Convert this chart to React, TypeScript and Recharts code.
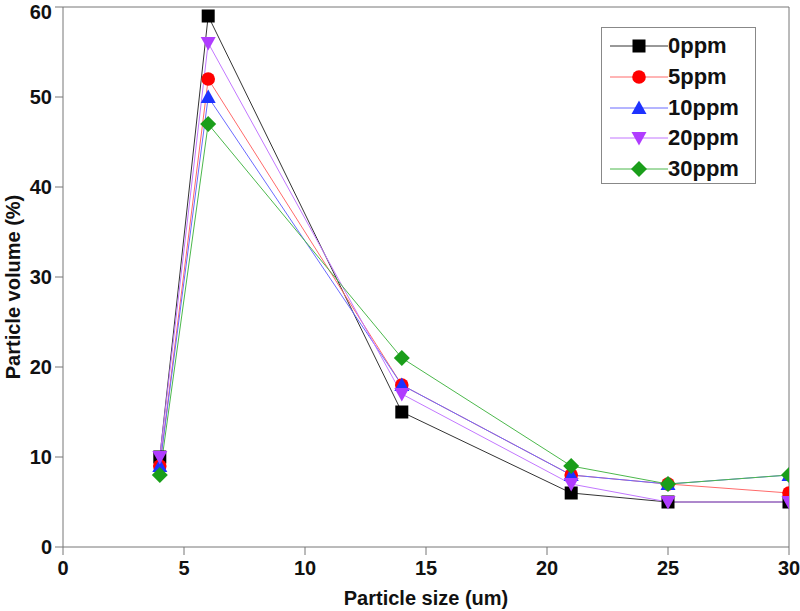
import React from 'react';
import { LineChart, Line, XAxis, YAxis, ReferenceLine, Label, Legend } from 'recharts';

const sizes = [4, 6, 14, 21, 25, 30];
const ppm0 = [10, 59, 15, 6, 5, 5];
const ppm5 = [9, 52, 18, 8, 7, 6];
const ppm10 = [9, 50, 18, 8, 7, 8];
const ppm20 = [10, 56, 17, 7, 5, 5];
const ppm30 = [8, 47, 21, 9, 7, 8];
const xTicks = [0, 5, 10, 15, 20, 25, 30];
const yTicks = [0, 10, 20, 30, 40, 50, 60];

const data = sizes.map((x, i) => ({
  x,
  p0: ppm0[i],
  p5: ppm5[i],
  p10: ppm10[i],
  p20: ppm20[i],
  p30: ppm30[i],
}));

const series = [
  { key: 'p0', name: '0ppm', shape: 'square', fill: '#000000', line: '#333333' },
  { key: 'p5', name: '5ppm', shape: 'circle', fill: '#ff0000', line: '#ff6a6a' },
  { key: 'p10', name: '10ppm', shape: 'up', fill: '#1e32ff', line: '#6a6aff' },
  { key: 'p20', name: '20ppm', shape: 'down', fill: '#b03cff', line: '#c277ff' },
  { key: 'p30', name: '30ppm', shape: 'diamond', fill: '#1a9e1a', line: '#4cb84c' },
];

const FONT = '"Liberation Sans", Arial, sans-serif';

function Marker({ shape, cx, cy, fill }: { shape: string; cx: number; cy: number; fill: string }) {
  if (cx == null || cy == null) return null;
  switch (shape) {
    case 'square':
      return <rect x={cx - 6.5} y={cy - 6.5} width={13} height={13} fill={fill} />;
    case 'circle':
      return <circle cx={cx} cy={cy} r={6.8} fill={fill} />;
    case 'up':
      return <polygon points={`${cx},${cy - 7.5} ${cx - 7.5},${cy + 6} ${cx + 7.5},${cy + 6}`} fill={fill} />;
    case 'down':
      return <polygon points={`${cx - 7.5},${cy - 6} ${cx + 7.5},${cy - 6} ${cx},${cy + 7.5}`} fill={fill} />;
    case 'diamond':
      return <polygon points={`${cx},${cy - 8} ${cx + 8},${cy} ${cx},${cy + 8} ${cx - 8},${cy}`} fill={fill} />;
    default:
      return null;
  }
}

function LegendBox() {
  return (
    <div
      style={{
        width: 155,
        height: 157,
        border: '1px solid #888',
        background: '#fff',
        boxSizing: 'border-box',
        position: 'relative',
      }}
    >
      {series.map((s, i) => (
        <div
          key={s.key}
          style={{
            position: 'absolute',
            left: 0,
            top: 3 + i * 30.8,
            height: 30,
            display: 'flex',
            alignItems: 'center',
          }}
        >
          <svg width={66} height={30} style={{ display: 'block' }}>
            <line x1={8} y1={15} x2={66} y2={15} stroke={s.line} strokeWidth={1} />
            <Marker shape={s.shape} cx={37} cy={15} fill={s.fill} />
          </svg>
          <span style={{ fontFamily: FONT, fontWeight: 'bold', fontSize: 22, color: '#111', lineHeight: '30px' }}>
            {s.name}
          </span>
        </div>
      ))}
    </div>
  );
}

export default function App() {
  return (
    <div style={{ position: 'absolute', left: 0, top: 0, background: '#fff' }}>
      <LineChart
        width={800}
        height={611}
        data={data}
        margin={{ top: 7, right: 11, bottom: 0, left: 0 }}
      >
        <XAxis
          dataKey="x"
          type="number"
          domain={[0, 30]}
          ticks={xTicks}
          allowDataOverflow
          height={64}
          stroke="#777"
          tickSize={8}
          tickMargin={6}
          tick={{ fill: '#111', fontFamily: FONT, fontWeight: 'bold', fontSize: 20 }}
          tickLine={{ stroke: '#777' }}
        >
          <Label
            value="Particle size (um)"
            position="insideBottom"
            offset={6}
            style={{ fill: '#111', fontFamily: FONT, fontWeight: 'bold', fontSize: 20 }}
          />
        </XAxis>
        <YAxis
          type="number"
          domain={[0, 60]}
          ticks={yTicks}
          width={63}
          stroke="#777"
          tickSize={8}
          tickMargin={3}
          tick={{ fill: '#111', fontFamily: FONT, fontWeight: 'bold', fontSize: 20 }}
          tickLine={{ stroke: '#777' }}
        >
          <Label
            value="Particle volume (%)"
            angle={-90}
            position="insideLeft"
            offset={13}
            dy={10}
            style={{ textAnchor: 'middle', fill: '#111', fontFamily: FONT, fontWeight: 'bold', fontSize: 20 }}
          />
        </YAxis>
        <ReferenceLine y={60} stroke="#777" strokeWidth={1} />
        <ReferenceLine x={30} stroke="#777" strokeWidth={1} />
        {series.map((s) => (
          <Line
            key={s.key}
            type="linear"
            dataKey={s.key}
            name={s.name}
            stroke={s.line}
            strokeWidth={1}
            isAnimationActive={false}
            activeDot={false}
            dot={(props: any) => (
              <Marker key={`${s.key}-${props.index}`} shape={s.shape} cx={props.cx} cy={props.cy} fill={s.fill} />
            )}
          />
        ))}
        <Legend
          layout="vertical"
          align="center"
          verticalAlign="middle"
          wrapperStyle={{ left: 601, top: 27, width: 155, height: 157 }}
          content={() => <LegendBox />}
        />
      </LineChart>
    </div>
  );
}
